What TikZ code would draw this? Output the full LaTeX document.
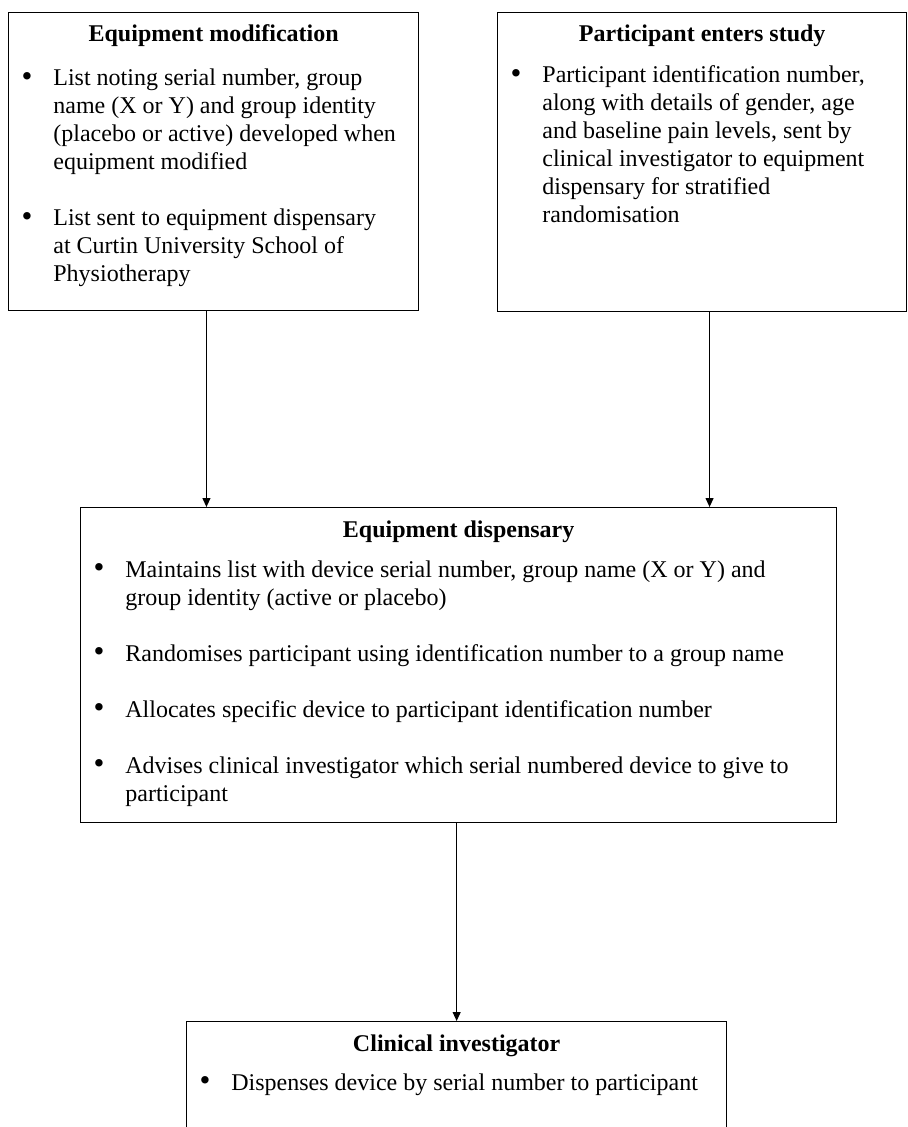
\documentclass[tikz,border=0pt]{standalone}
\usepackage{fontspec}
\setmainfont{Liberation Serif}
\usetikzlibrary{arrows.meta,positioning,calc}

\newcommand{\bul}{\makebox[22.5pt][l]{\hspace*{6.6pt}\raisebox{-0.4pt}{\fontsize{15.5}{14}\selectfont\textbullet}}}

\begin{document}
\begin{tikzpicture}[
    x=0.5pt, y=-0.5pt,
    frame/.style={draw, line width=0.65pt, inner sep=0pt, anchor=north west},
    title/.style={font=\fontsize{12}{14}\selectfont\bfseries, inner sep=0pt, anchor=base},
    items/.style={font=\fontsize{12}{14}\selectfont, inner sep=0pt, anchor=base west},
    arr/.style={-{Triangle[length=4.5pt,width=4pt]}, line width=0.55pt}
]
\useasboundingbox (0,0) rectangle (907,1127);

% boxes
\node[frame, minimum width=205pt, minimum height=149pt] (modbox) at (8,12) {};
\node[frame, minimum width=204.5pt, minimum height=149.5pt] (entrybox) at (497,12) {};
\node[frame, minimum width=378pt, minimum height=157.5pt] (dispbox) at (80,507) {};
\node[frame, minimum width=270pt, minimum height=70pt] (clinbox) at (186,1021) {};

% titles
\node[title] (modtitle) at ($(modbox.north)+(0,30)$) {Equipment modification};
\node[title] (entrytitle) at ($(entrybox.north)+(0,30)$) {Participant enters study};
\node[title] (disptitle) at ($(dispbox.north)+(0,30)$) {Equipment dispensary};
\node[title] (clintitle) at ($(clinbox.north)+(0,30)$) {Clinical investigator};

% bullet lists
\node[items] (modlist) at ($(modtitle.base -| modbox.west)+(0,44)$) {%
  \begin{tabular}[t]{@{}l@{}l@{}}
  \bul & List noting serial number, group\\
       & name (X or Y) and group identity\\
       & (placebo or active) developed when\\
       & equipment modified\\[14pt]
  \bul & List sent to equipment dispensary\\
       & at Curtin University School of\\
       & Physiotherapy
  \end{tabular}};
\node[items] (entrylist) at ($(entrytitle.base -| entrybox.west)+(0,41)$) {%
  \begin{tabular}[t]{@{}l@{}l@{}}
  \bul & Participant identification number,\\
       & along with details of gender, age\\
       & and baseline pain levels, sent by\\
       & clinical investigator to equipment\\
       & dispensary for stratified\\
       & randomisation
  \end{tabular}};
\node[items] (displist) at ($(disptitle.base -| dispbox.west)+(0,40)$) {%
  \begin{tabular}[t]{@{}l@{}l@{}}
  \bul & Maintains list with device serial number, group name (X or Y) and\\
       & group identity (active or placebo)\\[14pt]
  \bul & Randomises participant using identification number to a group name\\[14pt]
  \bul & Allocates specific device to participant identification number\\[14pt]
  \bul & Advises clinical investigator which serial numbered device to give to\\
       & participant
  \end{tabular}};
\node[items] (clinlist) at ($(clintitle.base -| clinbox.west)+(0,39)$) {%
  \begin{tabular}[t]{@{}l@{}l@{}}
  \bul & Dispenses device by serial number to participant
  \end{tabular}};

% connectors
\draw[arr] ([xshift=-3.6pt]modbox.south) -- ([xshift=-3.6pt]modbox.south |- dispbox.north);
\draw[arr] ([xshift=3.7pt]entrybox.south) -- ([xshift=3.7pt]entrybox.south |- dispbox.north);
\draw[arr] ([xshift=-1pt]dispbox.south) -- ([xshift=-1pt]dispbox.south |- clinbox.north);
\end{tikzpicture}
\end{document}
